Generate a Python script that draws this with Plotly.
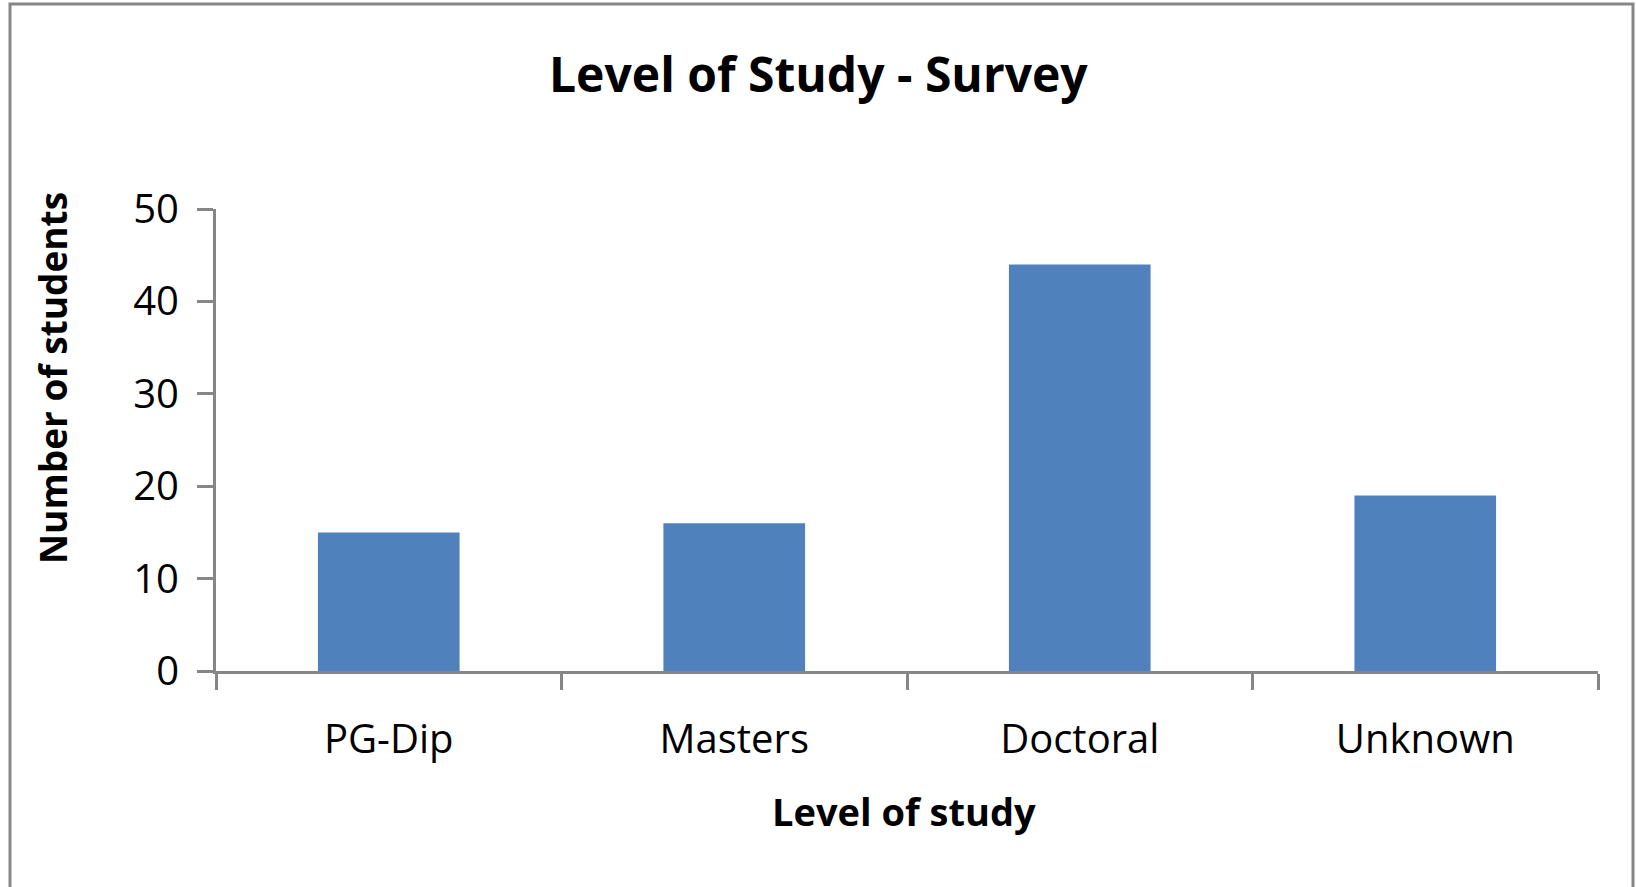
import plotly.graph_objects as go

categories = ["PG-Dip", "Masters", "Doctoral", "Unknown"]
students = [15, 16, 44, 19]
y_ticks = [0, 10, 20, 30, 40, 50]

W, H = 1636, 887
ML, MR, MT, MB = 216, 38, 209, 216
PW, PH = W - ML - MR, H - MT - MB

def px(x):
    return (x - ML) / PW

def py(y):
    return (H - MB - y) / PH

FONT = "Open Sans"
AX = "#868686"

fig = go.Figure(go.Bar(x=categories, y=students, marker=dict(color="#4F81BD", line=dict(width=0))))

fig.update_layout(
    template="none",
    width=W, height=H,
    margin=dict(l=ML, r=MR, t=MT, b=MB, pad=0),
    paper_bgcolor="white", plot_bgcolor="white",
    bargap=0.59,
    showlegend=False,
    font=dict(family=FONT, color="black"),
    xaxis=dict(
        type="category", showline=True, linecolor=AX, linewidth=3,
        ticks="outside", ticklen=16, tickwidth=3, tickcolor=AX,
        tickson="boundaries", showgrid=False, automargin=False,
        tickfont=dict(size=40, family=FONT, color="black"), ticklabelstandoff=31,
    ),
    yaxis=dict(
        range=[0, 50], tickvals=y_ticks, showline=True, linecolor=AX, linewidth=3,
        ticks="outside", ticklen=16, tickwidth=3, tickcolor=AX,
        showgrid=False, zeroline=False, automargin=False,
        tickfont=dict(size=40, family=FONT, color="black"), ticklabelstandoff=10,
    ),
    annotations=[
        dict(text="<b>Level of Study - Survey</b>", x=px(818), y=py(73), xref="paper", yref="paper",
             showarrow=False, font=dict(size=48, family=FONT, color="black"), xanchor="center", yanchor="middle"),
        dict(text="<b>Number of students</b>", x=px(52), y=py(378), xref="paper", yref="paper",
             showarrow=False, textangle=-90, font=dict(size=37, family=FONT, color="black"),
             xanchor="center", yanchor="middle"),
        dict(text="<b>Level of study</b>", x=px(904), y=py(811), xref="paper", yref="paper",
             showarrow=False, font=dict(size=38, family=FONT, color="black"), xanchor="center", yanchor="middle"),
    ],
    shapes=[
        dict(type="rect", xref="paper", yref="paper", x0=px(10), x1=px(1633), y0=py(900), y1=py(4),
             line=dict(color=AX, width=3), fillcolor="rgba(0,0,0,0)", layer="below"),
    ],
)

fig.write_html("out.html", config={"displayModeBar": False},
               post_script="document.body.style.margin='0';document.body.style.overflow='hidden';")
